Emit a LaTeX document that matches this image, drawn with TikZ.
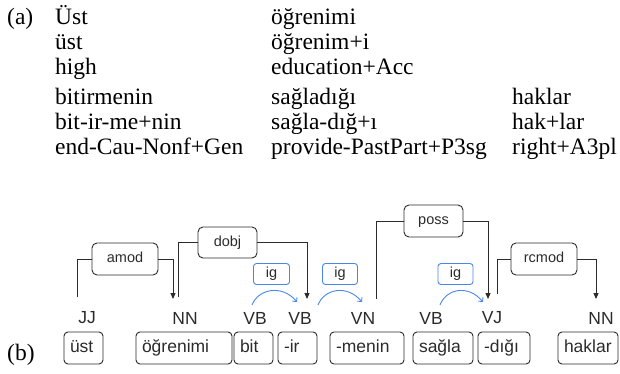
\documentclass[tikz,border=0pt]{standalone}
\usepackage{fontspec}
\setmainfont{Liberation Serif}
\newfontfamily\gsans{Liberation Sans}
\usetikzlibrary{arrows.meta}
\definecolor{ink}{HTML}{2B2B2B}
\definecolor{igblue}{HTML}{4A86E8}
\begin{document}
\begin{tikzpicture}[x=1pt,y=-1pt,
  serif/.style={anchor=base west, inner sep=0pt, font=\fontsize{23.5}{26}\selectfont},
  wbox/.style={draw=ink, line width=0.9pt, rounded corners=4pt, minimum height=32pt, inner xsep=6pt, inner ysep=0pt, align=left, text=ink, font=\gsans\fontsize{17.5}{20}\selectfont, text height=12.5pt, text depth=4pt},
  postag/.style={text=ink, font=\gsans\fontsize{17.5}{20}\selectfont, inner sep=0pt},
  lbox/.style={draw=ink, line width=0.9pt, rounded corners=5pt, inner sep=0pt, text=ink, font=\gsans\fontsize{14.5}{16}\selectfont, text height=10.5pt, text depth=3pt},
  igbox/.style={lbox, draw=igblue, rounded corners=3pt},
  dep/.style={draw=ink, line width=0.9pt},
  deparr/.style={dep, -{Triangle[length=6pt,width=5pt]}},
  igarr/.style={draw=igblue, line width=0.9pt, -{Straight Barb[length=3pt,width=6pt]}}
]
\useasboundingbox (0,0) rectangle (620,374);

% (a) glosses
\node[serif] (a) at (7,25) {(a)};
\node[serif] (t11) at (55,25) {Üst};
\node[serif] (t12) at (55,50) {üst};
\node[serif] (t13) at (55,75) {high};
\node[serif] (t21) at (271,25) {öğrenimi};
\node[serif] (t22) at (271,50) {öğrenim+i};
\node[serif] (t23) at (271,75) {education+Acc};
\node[serif] (t31) at (55,105) {bitirmenin};
\node[serif] (t32) at (55,130) {bit-ir-me+nin};
\node[serif] (t33) at (55,155) {end-Cau-Nonf+Gen};
\node[serif] (t41) at (271,105) {sağladığı};
\node[serif] (t42) at (271,130) {sağla-dığ+ı};
\node[serif] (t43) at (271,155) {provide-PastPart+P3sg};
\node[serif] (t51) at (512,105) {haklar};
\node[serif] (t52) at (512,130) {hak+lar};
\node[serif] (t53) at (512,155) {right+A3pl};
\node[serif] (b) at (7,360) {(b)};

% words
\node[wbox, text width=27pt] (w1) at (83.5,348) {üst};
\node[wbox, text width=84pt] (w2) at (184,348) {öğrenimi};
\node[wbox, text width=27pt] (w3) at (253.5,348) {bit};
\node[wbox, text width=27pt] (w4) at (297.5,348) {-ir};
\node[wbox, text width=62pt] (w5) at (367,348) {-menin};
\node[wbox, text width=48pt] (w6) at (443,348) {sağla};
\node[wbox, text width=40pt] (w7) at (504,348) {-dığı};
\node[wbox, text width=48pt] (w8) at (588,348) {haklar};

% POS tags
\node[postag] (p1) at (87,318) {JJ};
\node[postag] (p2) at (185,318) {NN};
\node[postag] (p3) at (255,318) {VB};
\node[postag] (p4) at (300,318) {VB};
\node[postag] (p5) at (363,318) {VN};
\node[postag] (p6) at (431,318) {VB};
\node[postag] (p7) at (492,318) {VJ};
\node[postag] (p8) at (601,318) {NN};

% labels
\node[lbox, minimum width=66pt, minimum height=32pt] (amod) at (125,259) {amod};
\node[lbox, minimum width=59pt, minimum height=31pt] (dobj) at (227.5,242.5) {dobj};
\node[lbox, minimum width=59pt, minimum height=32pt] (poss) at (433.5,221) {poss};
\node[lbox, minimum width=66pt, minimum height=32pt] (rcmod) at (544,259) {rcmod};
\node[igbox, minimum width=36pt, minimum height=21pt] (ig1) at (271.5,274) {ig};
\node[igbox, minimum width=35pt, minimum height=21pt] (ig2) at (340,274) {ig};
\node[igbox, minimum width=35pt, minimum height=21pt] (ig3) at (455.5,274) {ig};

% connector ends
\coordinate (amS) at (77,297);
\coordinate (amE) at (173,299);
\coordinate (doS) at (178,297);
\coordinate (doE) at (307,299);
\coordinate (poS) at (376,299);
\coordinate (poE) at (488,299);
\coordinate (rcS) at (497,294);
\coordinate (rcE) at (596,299);

\draw[dep] (amS) |- (amod.west);
\draw[deparr] (amod.east) -| (amE);
\draw[dep] (doS) |- (dobj.west);
\draw[deparr] (dobj.east) -| (doE);
\draw[dep] (poS) |- (poss.west);
\draw[deparr] (poss.east) -| (poE);
\draw[dep] (rcS) |- (rcmod.west);
\draw[deparr] (rcmod.east) -| (rcE);

% ig arcs
\coordinate (i1S) at (252,305);
\coordinate (i1E) at (297,302);
\coordinate (i2S) at (318,305);
\coordinate (i2E) at (362,302);
\coordinate (i3S) at (440,305);
\coordinate (i3E) at (483,302);
\draw[igarr] (i1S) .. controls (258,289) and (282,284) .. (i1E);
\draw[igarr] (i2S) .. controls (324,289) and (347,284) .. (i2E);
\draw[igarr] (i3S) .. controls (446,289) and (468,284) .. (i3E);
\end{tikzpicture}
\end{document}
